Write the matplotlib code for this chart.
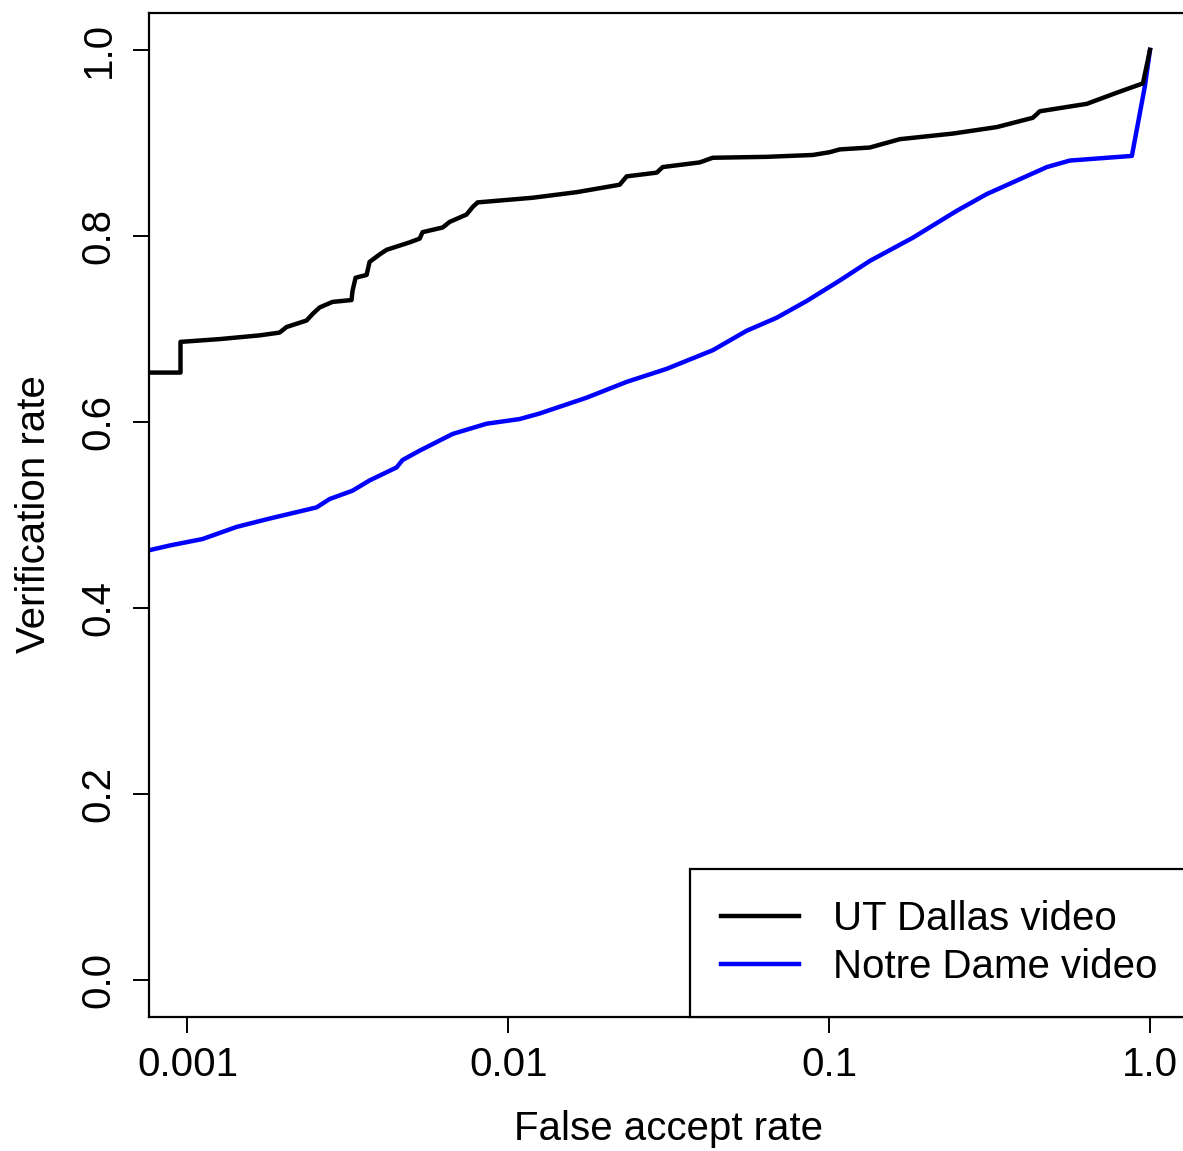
import matplotlib
matplotlib.use("Agg")
import numpy as np
import matplotlib.pyplot as plt

# ROC points: false accept rate vs verification rate
fa_utd = [0.0006, 0.000951, 0.000951, 0.001259, 0.001677, 0.001936, 0.002036, 0.00235,
          0.002454, 0.00258, 0.002832, 0.003246, 0.003269, 0.003341, 0.003616, 0.003694,
          0.003969, 0.004173, 0.004922, 0.00529, 0.005405, 0.006241, 0.006561, 0.007413,
          0.007738, 0.008021, 0.009395, 0.0119, 0.01633, 0.02223, 0.02338, 0.02901,
          0.03028, 0.03949, 0.04335, 0.06389, 0.0889, 0.1004, 0.1079, 0.1338, 0.1661,
          0.2428, 0.3332, 0.4313, 0.4535, 0.6355, 0.7884, 0.9504, 1.0]
vr_utd = [0.653, 0.653, 0.686, 0.689, 0.693, 0.696, 0.702, 0.709, 0.716, 0.723, 0.729,
          0.731, 0.741, 0.755, 0.758, 0.772, 0.780, 0.785, 0.793, 0.797, 0.804, 0.809,
          0.815, 0.823, 0.831, 0.836, 0.838, 0.841, 0.847, 0.855, 0.864, 0.868, 0.874,
          0.879, 0.884, 0.885, 0.887, 0.890, 0.893, 0.895, 0.904, 0.910, 0.917, 0.927,
          0.934, 0.942, 0.954, 0.964, 1.0]

fa_nd = [0.0006, 0.000761, 0.000879, 0.001114, 0.001422, 0.001802, 0.002525, 0.002773,
         0.003269, 0.003694, 0.004484, 0.004682, 0.00529, 0.006704, 0.008555, 0.01084,
         0.01252, 0.01754, 0.02338, 0.03114, 0.04335, 0.05534, 0.06864, 0.08514, 0.1079,
         0.1338, 0.1823, 0.25, 0.31, 0.477, 0.5626, 0.878, 0.964, 1.0]
vr_nd = [0.458, 0.462, 0.467, 0.474, 0.487, 0.496, 0.508, 0.517, 0.526, 0.537, 0.551,
         0.559, 0.569, 0.587, 0.598, 0.603, 0.609, 0.626, 0.643, 0.657, 0.677, 0.698,
         0.712, 0.730, 0.752, 0.773, 0.798, 0.827, 0.845, 0.874, 0.881, 0.886, 0.961, 1.0]

x_ticks = [0.001, 0.01, 0.1, 1.0]
x_ticklabels = ["0.001", "0.01", "0.1", "1.0"]
y_ticks = [0.0, 0.2, 0.4, 0.6, 0.8, 1.0]
y_ticklabels = ["0.0", "0.2", "0.4", "0.6", "0.8", "1.0"]

plt.rcParams["font.family"] = ["Liberation Sans", "DejaVu Sans"]
FS = 29

fig = plt.figure(figsize=(11.83, 11.51), dpi=100)
W, H = 1183, 1151
ax = fig.add_axes([149 / W, 134 / H, (1188.5 - 149) / W, (1017 - 12.7) / H])

ax.plot(fa_nd, vr_nd, color="#0000ff", lw=3.2, label="Notre Dame video", zorder=2)
ax.plot(fa_utd, vr_utd, color="black", lw=3.2, label="UT Dallas video", zorder=3)

ax.set_xscale("log")
# R-style 4% expansion on the log range 0.001..1
pad = 0.04 * 3
ax.set_xlim(10 ** (-3 - pad), 10 ** pad)
ax.set_ylim(-0.04, 1.04)

ax.set_xticks(x_ticks)
ax.set_xticklabels(x_ticklabels)
ax.xaxis.set_minor_locator(matplotlib.ticker.NullLocator())
ax.set_yticks(y_ticks)
ax.set_yticklabels(y_ticklabels, rotation=90, va="center")

ax.tick_params(axis="both", direction="out", length=11.5, width=1.4,
               labelsize=FS, color="black")
ax.tick_params(axis="x", pad=9.5)
ax.tick_params(axis="y", pad=11)
for s in ax.spines.values():
    s.set_linewidth(1.6)

fig.text((149 + 1188.5) / 2 / W, 11 / H, "False accept rate", fontsize=FS,
         ha="center", va="baseline")
fig.text(45 / W, (1151 - 514.5) / H, "Verification rate", fontsize=FS,
         ha="center", va="baseline", rotation=90, rotation_mode="anchor")

h, l = ax.get_legend_handles_labels()
leg = ax.legend(h[::-1], l[::-1], loc="lower right", fontsize=FS, frameon=True,
                fancybox=False, edgecolor="black", framealpha=1, borderaxespad=0,
                handlelength=1.94, handletextpad=0.85, borderpad=0.76, labelspacing=0.26)
leg.get_frame().set_linewidth(1.6)
for line in leg.get_lines():
    line.set_linewidth(3.2)

fig.savefig("out.png", dpi=100)
